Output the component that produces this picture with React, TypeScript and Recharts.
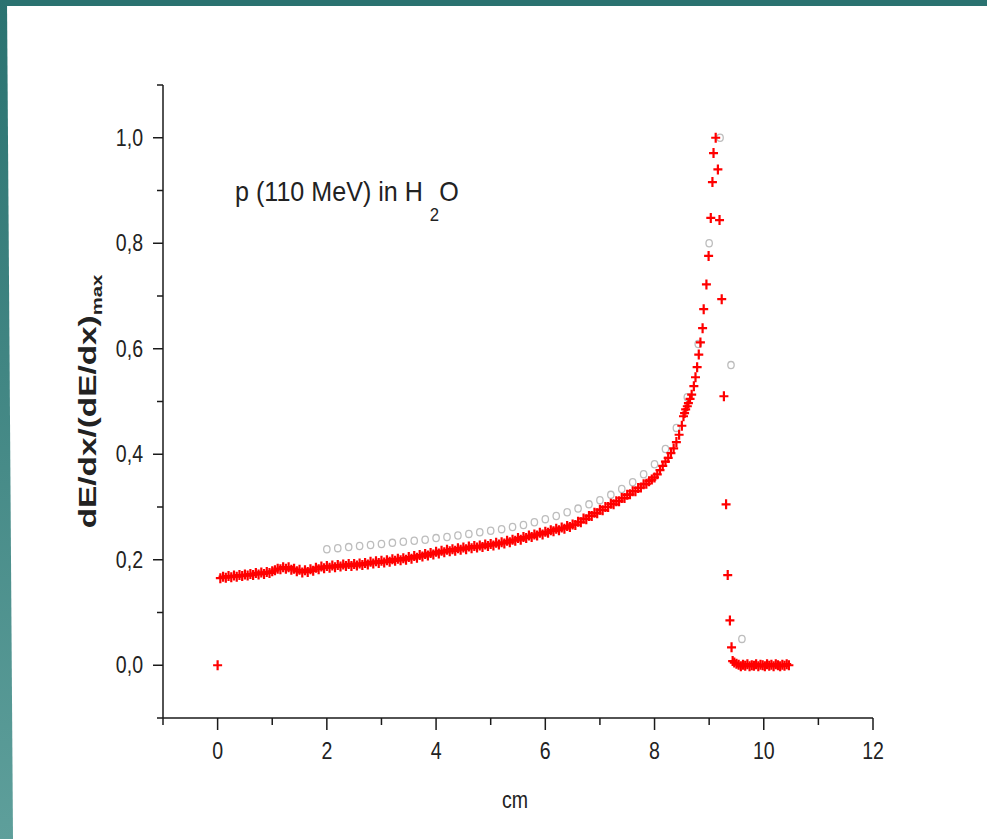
import React from "react";
import { ScatterChart, Scatter, XAxis, YAxis, Label } from "recharts";

// tick positions (cm on x, normalised dE/dx on y)
const xTicks = [-1, 0, 1, 2, 3, 4, 5, 6, 7, 8, 9, 10, 11, 12];
const yTicks = [-0.1, 0, 0.1, 0.2, 0.3, 0.4, 0.5, 0.6, 0.7, 0.8, 0.9, 1.0, 1.1];

// red crosses: simulated curve, [depth cm, value]
const redStart: [number, number][] = [[0, 0]];

const redRise: [number, number][] = [
  [0.05, 0.165], [0.1, 0.168], [0.15, 0.166], [0.2, 0.169], [0.25, 0.167], [0.3, 0.17], [0.35, 0.168], [0.4, 0.171],
  [0.45, 0.169], [0.5, 0.172], [0.55, 0.17], [0.6, 0.173], [0.65, 0.171], [0.7, 0.175], [0.75, 0.172], [0.8, 0.176],
  [0.85, 0.173], [0.9, 0.177], [0.95, 0.175], [1.0, 0.178], [1.05, 0.18], [1.1, 0.183], [1.15, 0.182], [1.2, 0.186],
  [1.25, 0.183], [1.3, 0.186], [1.35, 0.181], [1.4, 0.183], [1.45, 0.178], [1.5, 0.181], [1.55, 0.176], [1.6, 0.18],
  [1.65, 0.177], [1.7, 0.182], [1.75, 0.179], [1.8, 0.185], [1.85, 0.182], [1.9, 0.187], [1.95, 0.184], [2.0, 0.188],
  [2.05, 0.185], [2.1, 0.189], [2.15, 0.186], [2.2, 0.19], [2.25, 0.187], [2.3, 0.191], [2.35, 0.188], [2.4, 0.192],
  [2.45, 0.188], [2.5, 0.192], [2.55, 0.189], [2.6, 0.193], [2.65, 0.19], [2.7, 0.194], [2.75, 0.191], [2.8, 0.196],
  [2.85, 0.193], [2.9, 0.197], [2.95, 0.194], [3.0, 0.198], [3.05, 0.195], [3.1, 0.199], [3.15, 0.196], [3.2, 0.201],
  [3.25, 0.198], [3.3, 0.202], [3.35, 0.199], [3.4, 0.203], [3.45, 0.2], [3.5, 0.205], [3.55, 0.202], [3.6, 0.207],
  [3.65, 0.204], [3.7, 0.209], [3.75, 0.206], [3.8, 0.211], [3.85, 0.208], [3.9, 0.213], [3.95, 0.21], [4.0, 0.215],
  [4.05, 0.212], [4.1, 0.217], [4.15, 0.214], [4.2, 0.219], [4.25, 0.216], [4.3, 0.22], [4.35, 0.217], [4.4, 0.222],
  [4.45, 0.219], [4.5, 0.223], [4.55, 0.22], [4.6, 0.225], [4.65, 0.222], [4.7, 0.226], [4.75, 0.223], [4.8, 0.227],
  [4.85, 0.224], [4.9, 0.229], [4.95, 0.226], [5.0, 0.23], [5.05, 0.227], [5.1, 0.232], [5.15, 0.229], [5.2, 0.233],
  [5.25, 0.231], [5.3, 0.236], [5.35, 0.233], [5.4, 0.238], [5.45, 0.236], [5.5, 0.241], [5.55, 0.238], [5.6, 0.243],
  [5.65, 0.241], [5.7, 0.246], [5.75, 0.243], [5.8, 0.248], [5.85, 0.246], [5.9, 0.251], [5.95, 0.248], [6.0, 0.253],
  [6.05, 0.251], [6.1, 0.256], [6.15, 0.254], [6.2, 0.259], [6.25, 0.256], [6.3, 0.261], [6.35, 0.259], [6.4, 0.264],
  [6.45, 0.262], [6.5, 0.267], [6.55, 0.266], [6.6, 0.272], [6.65, 0.271], [6.7, 0.278], [6.75, 0.277], [6.8, 0.283],
  [6.85, 0.283], [6.9, 0.289], [6.95, 0.288], [7.0, 0.295], [7.05, 0.294], [7.1, 0.3], [7.15, 0.3], [7.2, 0.306],
  [7.25, 0.305], [7.3, 0.311], [7.35, 0.311], [7.4, 0.317], [7.45, 0.317], [7.5, 0.323], [7.55, 0.324], [7.6, 0.33],
  [7.65, 0.33], [7.7, 0.336], [7.75, 0.337], [7.8, 0.343], [7.85, 0.344], [7.9, 0.349], [7.95, 0.352], [8.0, 0.356],
  [8.05, 0.362], [8.1, 0.37], [8.15, 0.378], [8.2, 0.386], [8.25, 0.393], [8.3, 0.402], [8.35, 0.411], [8.4, 0.423],
  [8.45, 0.437], [8.5, 0.454],
];

const redPeak: [number, number][] = [
  [8.53, 0.472], [8.55, 0.478], [8.57, 0.485], [8.6, 0.491], [8.62, 0.497], [8.65, 0.505], [8.68, 0.513],
  [8.72, 0.529], [8.75, 0.546], [8.78, 0.565], [8.81, 0.589], [8.84, 0.612], [8.88, 0.639], [8.9, 0.675],
  [8.95, 0.722], [8.99, 0.776], [9.03, 0.848], [9.06, 0.916], [9.08, 0.971], [9.12, 1.0], [9.16, 0.94],
  [9.19, 0.844], [9.23, 0.694], [9.27, 0.51], [9.31, 0.305], [9.34, 0.171], [9.38, 0.085], [9.41, 0.034],
  [9.43, 0.008],
];

const redTail: [number, number][] = [
  [9.46, 0.005], [9.5, 0.003], [9.54, 0.001], [9.58, -0.002], [9.62, 0.001], [9.66, -0.001], [9.7, 0.002],
  [9.74, -0.002], [9.78, 0.0], [9.82, -0.001], [9.86, 0.002], [9.9, -0.002], [9.94, 0.001], [9.98, 0.0],
  [10.02, -0.002], [10.06, 0.002], [10.1, -0.001], [10.14, 0.001], [10.18, -0.002], [10.22, 0.002],
  [10.26, 0.0], [10.3, -0.002], [10.34, 0.001], [10.38, -0.001], [10.42, 0.002], [10.46, 0.0],
];

// grey open circles: measured points
const circleX = [
  2.0, 2.2, 2.4, 2.6, 2.8, 3.0, 3.2, 3.4, 3.6, 3.8, 4.0, 4.2, 4.4, 4.6, 4.8, 5.0, 5.2, 5.4, 5.6, 5.8,
  6.0, 6.2, 6.4, 6.6, 6.8, 7.0, 7.2, 7.4, 7.6, 7.8, 8.0, 8.2, 8.4, 8.6, 8.8, 9.0, 9.2, 9.4, 9.6,
];
const circleY = [
  0.22, 0.222, 0.224, 0.226, 0.228, 0.23, 0.232, 0.234, 0.236, 0.238, 0.241, 0.243, 0.246, 0.249, 0.252,
  0.255, 0.258, 0.262, 0.266, 0.271, 0.277, 0.283, 0.29, 0.297, 0.305, 0.313, 0.323, 0.334, 0.347, 0.362,
  0.381, 0.41, 0.45, 0.508, 0.609, 0.8, 1.0, 0.569, 0.05,
];

const toPoints = (rows: [number, number][]) => rows.map(([x, y]) => ({ x, y }));
const redData = toPoints([...redStart, ...redRise, ...redPeak, ...redTail]);
const circleData = circleX.map((x, i) => ({ x, y: circleY[i] }));

const AXIS = "#1a1a1a";
const FONT = "Arial, 'Liberation Sans', sans-serif";

function Cross(props: any) {
  const { cx, cy } = props;
  if (cx == null || cy == null) return null;
  return (
    <path
      d={`M${cx - 4.5},${cy}H${cx + 4.5}M${cx},${cy - 5}V${cy + 5}`}
      stroke="#ff0000"
      strokeWidth={2.2}
      fill="none"
    />
  );
}

function Ring(props: any) {
  const { cx, cy } = props;
  if (cx == null || cy == null) return null;
  return <ellipse cx={cx} cy={cy} rx={3.2} ry={3.6} fill="none" stroke="#bdbdbd" strokeWidth={1.3} />;
}

function XTick({ x, y, payload }: any) {
  const v = payload.value;
  const major = v >= 0 && v % 2 === 0;
  return (
    <g>
      <line x1={x} y1={y} x2={x} y2={y + (major ? 12 : 7)} stroke={AXIS} strokeWidth={1.5} />
      {major && (
        <text
          transform={`translate(${x},${y + 41}) scale(0.85,1)`}
          textAnchor="middle"
          fontSize={23}
          fontFamily={FONT}
          fill="#222"
        >
          {v}
        </text>
      )}
    </g>
  );
}

function YTick({ x, y, payload }: any) {
  const v = payload.value;
  const tenth = Math.round(v * 10);
  const major = tenth >= 0 && tenth % 2 === 0;
  return (
    <g>
      <line x1={x - (major ? 10 : 6)} y1={y} x2={x} y2={y} stroke={AXIS} strokeWidth={1.5} />
      {major && (
        <text
          transform={`translate(${x - 20},${y + 8}) scale(0.85,1)`}
          textAnchor="end"
          fontSize={23}
          fontFamily={FONT}
          fill="#222"
        >
          {v.toFixed(1).replace(".", ",")}
        </text>
      )}
    </g>
  );
}

function YTitle({ viewBox }: any) {
  const cy = viewBox.y + viewBox.height / 2;
  return (
    <text
      transform={`translate(96,${cy}) rotate(-90) scale(1.45,1)`}
      textAnchor="middle"
      fontSize={23}
      fontWeight="bold"
      fontFamily={FONT}
      fill="#222"
    >
      dE/dx/(dE/dx)
      <tspan fontSize={14} dy={6}>max</tspan>
    </text>
  );
}

function XTitle({ viewBox }: any) {
  const cx = viewBox.x + viewBox.width / 2 - 3;
  return (
    <text
      transform={`translate(${cx},${viewBox.y + 90}) scale(0.85,1)`}
      textAnchor="middle"
      fontSize={23}
      fontFamily={FONT}
      fill="#222"
    >
      cm
    </text>
  );
}

export default function App() {
  return (
    <div style={{ position: "absolute", left: 0, top: 0, width: 987, height: 839, background: "#fff", overflow: "hidden" }}>
      <div style={{ position: "absolute", left: 0, top: 0, width: 987, height: 6, background: "#2a7270" }} />
      <div
        style={{
          position: "absolute",
          left: 0,
          top: 0,
          width: 13,
          height: 839,
          background: "linear-gradient(#2a7270, #5e9f9b)",
          clipPath: "polygon(0 0, 7px 0, 13px 100%, 0 100%)",
        }}
      />
      <ScatterChart width={987} height={839} margin={{ top: 85, right: 114, left: 0, bottom: 0 }}>
        <XAxis
          type="number"
          dataKey="x"
          domain={[-1, 12]}
          ticks={xTicks}
          interval={0}
          allowDataOverflow
          height={121}
          tickSize={0}
          tickMargin={0}
          tickLine={false}
          tick={<XTick />}
          axisLine={{ stroke: AXIS, strokeWidth: 1.5 }}
        >
          <Label content={<XTitle />} />
        </XAxis>
        <YAxis
          type="number"
          dataKey="y"
          domain={[-0.1, 1.1]}
          ticks={yTicks}
          interval={0}
          allowDataOverflow
          width={163}
          tickSize={0}
          tickMargin={0}
          tickLine={false}
          tick={<YTick />}
          axisLine={{ stroke: AXIS, strokeWidth: 1.5 }}
        >
          <Label content={<YTitle />} />
        </YAxis>
        <Scatter data={circleData} shape={<Ring />} isAnimationActive={false} />
        <Scatter data={redData} shape={<Cross />} isAnimationActive={false} />
      </ScatterChart>
      <svg width={987} height={839} style={{ position: "absolute", left: 0, top: 0, pointerEvents: "none" }}>
        <text
          transform="translate(235,201) scale(0.93,1)"
          fontSize={27}
          fontFamily={FONT}
          fill="#222"
        >
          p (110 MeV) in H <tspan fontSize={18} dy={20}>2</tspan>
          <tspan dy={-20}>O</tspan>
        </text>
      </svg>
    </div>
  );
}
